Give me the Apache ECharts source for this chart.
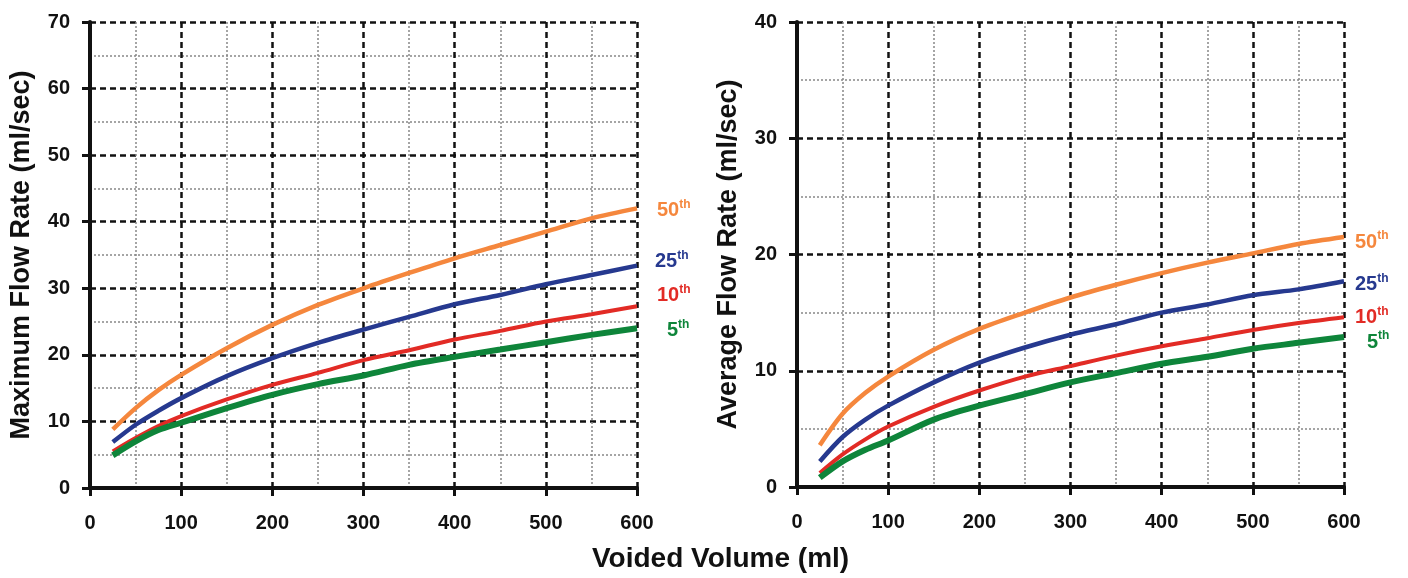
<!DOCTYPE html>
<html><head><meta charset="utf-8">
<script src="https://cdn.jsdelivr.net/npm/echarts@6/dist/echarts.min.js"></script>
<style>html,body{margin:0;padding:0;background:#fff}#c{width:1408px;height:578px}</style>
</head><body><div id="c"></div>
<script>
const volumes = [25, 50, 75, 100, 150, 200, 250, 300, 350, 400, 450, 500, 550, 600];
// Maximum flow rate (ml/sec)
const max50 = [8.8, 12.0, 14.7, 17.0, 21.0, 24.5, 27.5, 30.0, 32.3, 34.5, 36.5, 38.5, 40.5, 42.0];
const max25 = [6.9, 9.5, 11.6, 13.5, 16.8, 19.5, 21.8, 23.8, 25.7, 27.6, 29.0, 30.6, 32.0, 33.4];
const max10 = [5.5, 7.5, 9.3, 10.8, 13.3, 15.5, 17.3, 19.2, 20.7, 22.3, 23.6, 25.0, 26.1, 27.3];
const max5  = [4.9, 7.0, 8.7, 9.8, 12.0, 14.0, 15.6, 16.9, 18.5, 19.7, 20.8, 21.9, 23.0, 24.0];
// Average flow rate (ml/sec)
const avg50 = [3.6, 6.3, 8.1, 9.5, 11.8, 13.6, 15.0, 16.3, 17.4, 18.4, 19.3, 20.1, 20.9, 21.5];
const avg25 = [2.2, 4.3, 5.8, 7.0, 9.0, 10.7, 12.0, 13.1, 14.0, 15.0, 15.7, 16.5, 17.0, 17.7];
const avg10 = [1.2, 2.8, 4.1, 5.2, 6.9, 8.3, 9.5, 10.4, 11.3, 12.1, 12.8, 13.5, 14.1, 14.6];
const avg5  = [0.8, 2.2, 3.2, 4.0, 5.8, 7.0, 8.0, 9.0, 9.8, 10.6, 11.2, 11.9, 12.4, 12.9];
const pctLabels = ['50', '25', '10', '5'];
const xTitle = 'Voided Volume (ml)';
const yTitleLeft = 'Maximum Flow Rate (ml/sec)';
const yTitleRight = 'Average Flow Rate (ml/sec)';

const colors = ['#F5873D', '#26398F', '#E22B25', '#0E853A'];
const widths = [4.5, 4.5, 4, 6];
const FONT = '"Liberation Sans", Arial, sans-serif';

function pairs(ys){ return volumes.map((v,i)=>[v, ys[i]]); }

function xAxis(gi){
  return {
    gridIndex: gi, type: 'value', min: 0, max: 600, interval: 100,
    axisLine: {show: true, onZero: false, lineStyle: {color: '#111', width: 4}},
    axisTick: {show: true, length: 8, lineStyle: {color: '#111', width: 3}},
    axisLabel: {color: '#111', fontFamily: FONT, fontWeight: 'bold', fontSize: 20, margin: 25},
    splitLine: {show: true, lineStyle: {color: '#111', width: 2.5, type: [6, 4]}},
    minorTick: {show: false, splitNumber: 2},
    minorSplitLine: {show: true, lineStyle: {color: '#888', width: 1.5, type: [2, 2]}}
  };
}
function yAxis(gi, max, name, gap){
  return {
    gridIndex: gi, type: 'value', min: 0, max: max, interval: 10,
    name: name, nameLocation: 'middle', nameGap: gap,
    nameTextStyle: {color: '#111', fontFamily: FONT, fontWeight: 'bold', fontSize: 27},
    axisLine: {show: true, onZero: false, lineStyle: {color: '#111', width: 4}},
    axisTick: {show: true, length: 8, lineStyle: {color: '#111', width: 3}},
    axisLabel: {color: '#111', fontFamily: FONT, fontWeight: 'bold', fontSize: 20, margin: 20},
    splitLine: {show: true, lineStyle: {color: '#111', width: 2.5, type: [6, 4]}},
    minorTick: {show: false, splitNumber: 2},
    minorSplitLine: {show: true, lineStyle: {color: '#888', width: 1.5, type: [2, 2]}}
  };
}
function series(gi, ys, k, offset){
  return {
    type: 'line', xAxisIndex: gi, yAxisIndex: gi, data: pairs(ys),
    showSymbol: false, smooth: 0.3, z: 5,
    lineStyle: {color: colors[k], width: widths[k]},
    endLabel: {
      show: true, offset: offset,
      formatter: '{n|' + pctLabels[k] + '}{s|th}',
      rich: {
        n: {color: colors[k], fontFamily: FONT, fontWeight: 'bold', fontSize: 20, lineHeight: 24},
        s: {color: colors[k], fontFamily: FONT, fontWeight: 'bold', fontSize: 12, verticalAlign: 'top', lineHeight: 24}
      }
    }
  };
}

const chart = echarts.init(document.getElementById('c'), null, {renderer: 'canvas'});
chart.setOption({
  animation: false,
  grid: [
    {left: 90, right: 771, top: 22, bottom: 90, containLabel: false},
    {left: 797, right: 64, top: 22, bottom: 91, containLabel: false}
  ],
  graphic: [{
    type: 'text', left: 592, top: 545,
    style: {text: xTitle, fill: '#111', font: 'bold 28px ' + FONT}
  }],
  xAxis: [xAxis(0), xAxis(1)],
  yAxis: [yAxis(0, 70, yTitleLeft, 55), yAxis(1, 40, yTitleRight, 55)],
  series: [
    series(0, max50, 0, [12, 2]),
    series(0, max25, 1, [10, -4]),
    series(0, max10, 2, [12, -11]),
    series(0, max5, 3, [22, 2]),
    series(1, avg50, 0, [3, 5]),
    series(1, avg25, 1, [3, 3]),
    series(1, avg10, 2, [3, 0]),
    series(1, avg5, 3, [15, 5])
  ]
});
</script></body></html>
